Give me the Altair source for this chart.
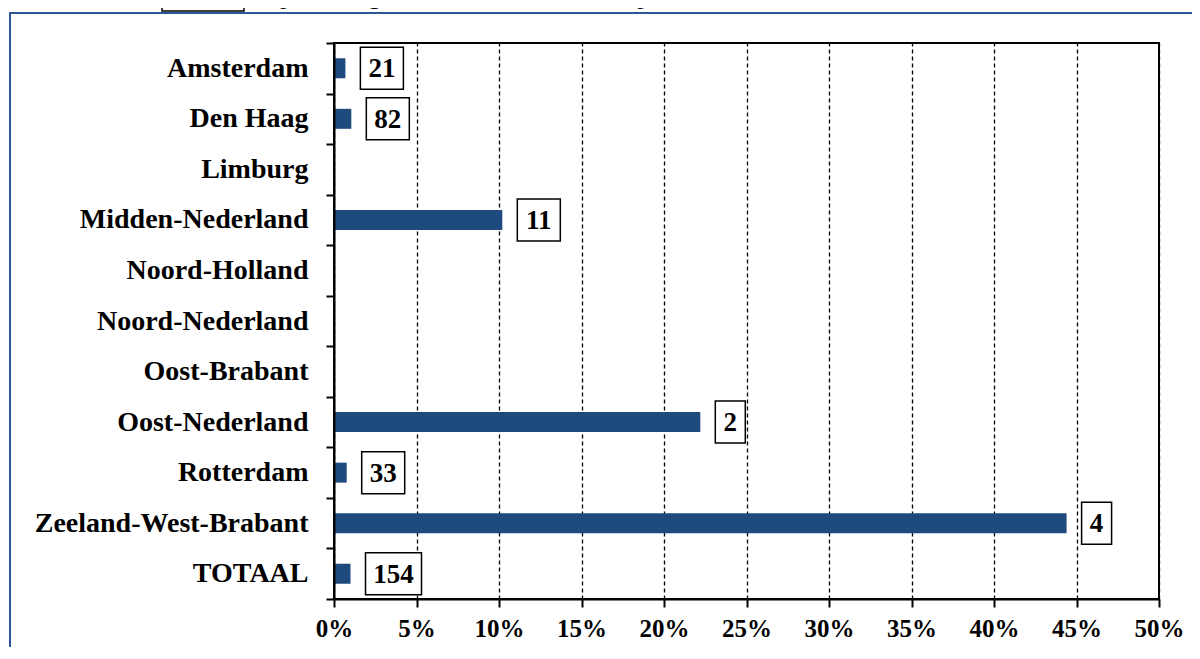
import altair as alt
import pandas as pd

regions = ["Amsterdam", "Den Haag", "Limburg", "Midden-Nederland", "Noord-Holland",
           "Noord-Nederland", "Oost-Brabant", "Oost-Nederland", "Rotterdam",
           "Zeeland-West-Brabant", "TOTAAL"]
pct = [0.0069, 0.0105, None, 0.102, None, None, None, 0.222, 0.0077, 0.444, 0.010]
counts = ["21", "82", None, "11", None, None, None, "2", "33", "4", "154"]
x_ticks = [0, 0.05, 0.10, 0.15, 0.20, 0.25, 0.30, 0.35, 0.40, 0.45, 0.50]
title_box = "aantal"
title_rest = "en percentage van het totaal aantal supersnelrechtzaken"

FONT = "Liberation Serif"
BAR = "#1f4a7d"
W, H = 825, 556

df = pd.DataFrame({"region": regions, "pct": pct, "count": counts})

X = alt.X("pct:Q",
          scale=alt.Scale(domain=[0, 0.5], nice=False),
          axis=alt.Axis(title=None, values=x_ticks, format=".0%",
                        labelFont=FONT, labelFontSize=25, labelFontWeight="bold",
                        labelColor="black", labelPadding=9, labelFlush=False,
                        labelOverlap=False,
                        domainColor="black", domainWidth=2,
                        tickColor="black", tickWidth=2, tickSize=8,
                        grid=True, gridColor="black", gridWidth=1.3,
                        gridDash=[4, 3], gridOpacity=1))
Y = alt.Y("region:N", sort=regions,
          scale=alt.Scale(paddingInner=0, paddingOuter=0),
          axis=alt.Axis(title=None, tickBand="extent",
                        labelFont=FONT, labelFontSize=28, labelFontWeight="bold",
                        labelColor="black", labelPadding=18, labelLimit=400,
                        domainColor="black", domainWidth=2,
                        tickColor="black", tickWidth=2, tickSize=8, zindex=1))

base = alt.Chart(df)

bars = base.mark_bar(size=20, color=BAR).encode(x=X, y=Y)

layers = [bars]
gap = 15
box_w = {1: 30, 2: 43, 3: 56}
for nd, w in box_w.items():
    sub = base.transform_filter(f"datum.count != null && length(datum.count) == {nd}")
    boxes = sub.mark_bar(size=42, fill="white", stroke="black", strokeWidth=1.5,
                         xOffset=gap, x2Offset=gap + w).encode(
        x=X, x2="pct:Q", y=Y)
    txt = sub.mark_text(dx=gap + w / 2, dy=1, align="center", baseline="middle",
                        font=FONT, fontSize=27, fontWeight="bold", color="black").encode(
        x=X, y=Y, text="count:N")
    layers += [boxes, txt]

# partially visible heading above the chart
head_box = alt.Chart(pd.DataFrame({"t": [title_box]})).mark_rect(
    fill="white", stroke="black", strokeWidth=1.5).encode(
    x=alt.value(-172), x2=alt.value(-90), y=alt.value(-80), y2=alt.value(-32))
head_box_txt = alt.Chart(pd.DataFrame({"t": [title_box]})).mark_text(
    align="left", baseline="alphabetic", font=FONT, fontSize=26, color="black").encode(
    x=alt.value(-166), y=alt.value(-39), text="t:N")
head_txt = alt.Chart(pd.DataFrame({"t": [title_rest]})).mark_text(
    align="left", baseline="alphabetic", font=FONT, fontSize=26, color="black").encode(
    x=alt.value(-85), y=alt.value(-39), text="t:N")

# outer blue frame
frame = alt.Chart(pd.DataFrame({"t": [0]})).mark_rect(
    fill="white", fillOpacity=0, stroke="#2b5797", strokeWidth=2).encode(
    x=alt.value(-324), x2=alt.value(900), y=alt.value(-30), y2=alt.value(700))

chart = alt.layer(frame, *layers, head_box, head_box_txt, head_txt).properties(
    width=W, height=H,
    background="white",
    autosize=alt.AutoSizeParams(type="none"),
    padding={"left": 326, "top": 35, "right": 33, "bottom": 48},
).configure_view(stroke="black", strokeWidth=2)

chart.save("out.html", embed_options={"renderer": "svg", "actions": False})
